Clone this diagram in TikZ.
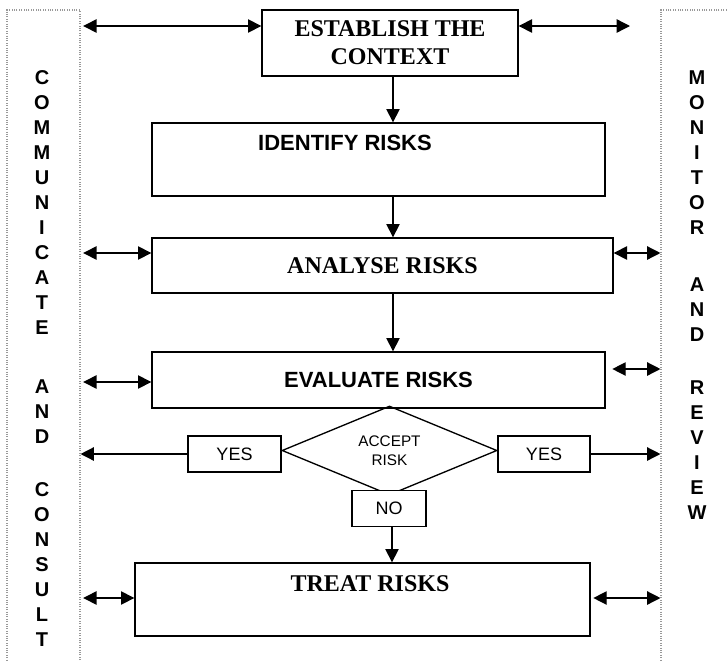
\documentclass[tikz,border=0pt]{standalone}
\usepackage{fontspec}
\setmainfont{Liberation Serif}
\setsansfont{Liberation Sans}
\usetikzlibrary{shapes.geometric, arrows.meta, calc}

\begin{document}
\begin{tikzpicture}[
    x=0.75pt, y=-0.75pt,
    >={Triangle[length=10pt,width=10pt]},
    panel/.style={rectangle, draw=gray!80, densely dotted, line width=0.8pt, minimum height=517.5pt, inner sep=0pt},
    riskbox/.style={rectangle, draw, line width=1pt, inner sep=0pt},
    serifbox/.style={riskbox, font=\fontsize{18pt}{21pt}\selectfont\bfseries, align=center},
    sansbox/.style={riskbox, font=\fontsize{16.5pt}{19pt}\selectfont\sffamily\bfseries},
    answer/.style={riskbox, fill=white, minimum height=27pt, font=\fontsize{13.5pt}{16pt}\selectfont\sffamily},
    decision/.style={diamond, draw, line width=1pt, aspect=2.4, inner sep=0pt, minimum width=161.25pt, minimum height=66.75pt, align=center, font=\fontsize{11.5pt}{14.25pt}\selectfont\sffamily},
    vword/.style={align=center, inner sep=0pt, font=\fontsize{15pt}{18.75pt}\selectfont\sffamily\bfseries},
    arrow/.style={->, line width=1pt},
    both/.style={<->, line width=1pt}
]
\useasboundingbox (0,0) rectangle (728,661);
\clip (0,0) rectangle (728,661);

% side panels
\node[panel, minimum width=54.75pt] (lpanel) at (43.5,355) {};
\node[panel, minimum width=59.25pt] (rpanel) at (700.5,355) {};

\node[vword] (lw1) at (42,203) {C\\O\\M\\M\\U\\N\\I\\C\\A\\T\\E};
\node[vword] (lw2) at (42,412) {A\\N\\D};
\node[vword] (lw3) at (42,565) {C\\O\\N\\S\\U\\L\\T};
\node[vword] (rw1) at (697,153) {M\\O\\N\\I\\T\\O\\R};
\node[vword] (rw2) at (697,310) {A\\N\\D};
\node[vword] (rw3) at (697,450.5) {R\\E\\V\\I\\E\\W};

% process boxes
\node[serifbox, minimum width=192pt, minimum height=49.5pt] (ctx) at (390,43) {ESTABLISH THE\\CONTEXT};
\node[riskbox, minimum width=339.75pt, minimum height=54.75pt] (idrisk) at (378.5,159.5) {};
\node[font=\fontsize{16.5pt}{19pt}\selectfont\sffamily\bfseries] (idtext) at (345,143) {IDENTIFY RISKS};
\node[serifbox, minimum width=345.75pt, minimum height=41.25pt] (anrisk) at (382.5,265.5) {ANALYSE RISKS};
\node[sansbox, minimum width=339.75pt, minimum height=42pt] (evrisk) at (378.5,380) {EVALUATE RISKS};
\node[riskbox, minimum width=341.25pt, minimum height=54.75pt] (trrisk) at (362.5,599.5) {};
\node[font=\fontsize{18pt}{21pt}\selectfont\bfseries] (trtext) at (370,584) {TREAT RISKS};

% decision
\node[decision] (accept) at (389.5,450.5) {ACCEPT\\RISK};
\node[answer, minimum width=69.75pt] (yesl) at (234.5,454) {YES};
\node[answer, minimum width=69pt] (yesr) at (544,454) {YES};
\node[answer, minimum width=55.5pt] (nobox) at (389,508.5) {NO};

% rows of the side arrows
\coordinate (ctxrow) at (0,26);
\coordinate (ctxend) at (630,26);
\coordinate (anrow) at (0,253);
\coordinate (evlrow) at (0,382);
\coordinate (evrrow) at (0,369);
\coordinate (trrow) at (0,598);

% flow
\draw[arrow] (ctx.south -| 393,0) -- (idrisk.north -| 393,0);
\draw[arrow] (idrisk.south -| 393,0) -- (anrisk.north -| 393,0);
\draw[arrow] (anrisk.south -| 393,0) -- (evrisk.north -| 393,0);
\draw[arrow] (nobox.south -| 392,0) -- (trrisk.north -| 392,0);
\draw[arrow] (yesl.west) -- (yesl.west -| lpanel.east);
\draw[arrow] (yesr.east) -- (yesr.east -| rpanel.west);

% communicate and review
\draw[both, shorten <=2pt] (lpanel.east |- ctxrow) -- (ctx.west |- ctxrow);
\draw[both] (ctx.east |- ctxrow) -- (ctxend);
\draw[both, shorten <=2pt] (lpanel.east |- anrow) -- (anrisk.west |- anrow);
\draw[both] (anrisk.east |- anrow) -- (rpanel.west |- anrow);
\draw[both, shorten <=2pt] (lpanel.east |- evlrow) -- (evrisk.west |- evlrow);
\draw[both, shorten <=5pt] (evrisk.east |- evrrow) -- (rpanel.west |- evrrow);
\draw[both, shorten <=2pt] (lpanel.east |- trrow) -- (trrisk.west |- trrow);
\draw[both, shorten <=2pt] (trrisk.east |- trrow) -- (rpanel.west |- trrow);

\end{tikzpicture}
\end{document}
